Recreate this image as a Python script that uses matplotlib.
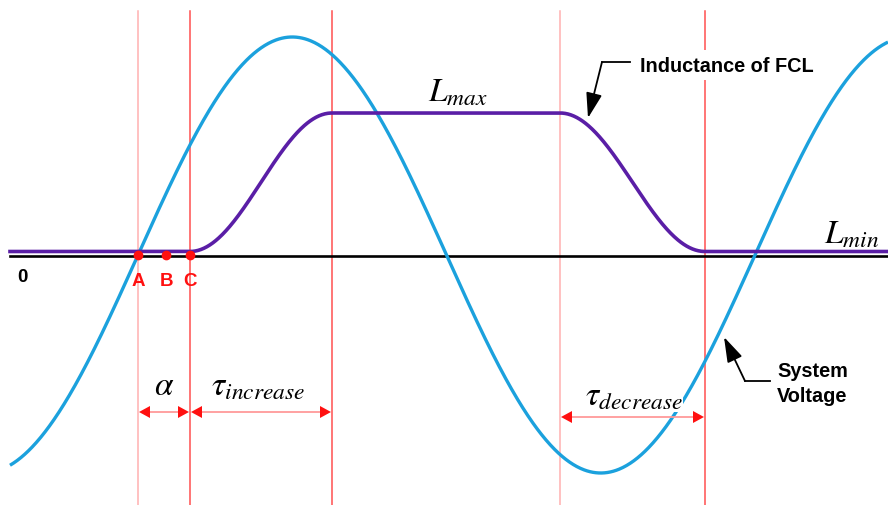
#!/usr/bin/env python3
"""FCL inductance vs system voltage timing sketch."""

import numpy as np
import matplotlib.pyplot as plt
from matplotlib.patches import Polygon

plt.rcParams["mathtext.fontset"] = "stix"

# horizontal positions (same units as the picture, 0..888)
X_START = 10
X_END = 888
V_ZERO = 138          # rising zero crossing of the voltage
V_PERIOD = 617        # one full cycle
V_AMP = 218           # voltage amplitude
L_MIN = 3.5
L_MAX = 142
RISE = (190, 332)     # tau_increase window
FALL = (560, 705)     # tau_decrease window
VLINES = [138, 190, 332, 560, 705]
VLINE_COLORS = ["#ffb0b0", "#ff5050", "#ff5050", "#ffb0b0", "#ff5050"]
POINTS_X = [138, 166, 190]
POINTS_LABEL = ["A", "B", "C"]

BLUE = "#1ba1dd"
PURPLE = "#5a1ea6"
RED = "#ff1010"


def inductance(x):
    t = np.clip((x - RISE[0]) / (RISE[1] - RISE[0]), 0, 1)
    up = L_MIN + (L_MAX - L_MIN) * 0.5 * (1 - np.cos(np.pi * t))
    t2 = np.clip((x - FALL[0]) / (FALL[1] - FALL[0]), 0, 1)
    down = L_MAX - (L_MAX - L_MIN) * 0.5 * (1 - np.cos(np.pi * t2))
    return np.where(x < FALL[0], up, down)


def dim_arrow(ax, x0, x1, y, hl=12, hw=6):
    ax.plot([x0 + hl, x1 - hl], [y, y], color="#ff9a9a", lw=1.3, zorder=5)
    ax.add_patch(Polygon([(x0 + 1, y), (x0 + hl, y + hw), (x0 + hl, y - hw)],
                         closed=True, fc=RED, ec="none", zorder=5))
    ax.add_patch(Polygon([(x1 - 1, y), (x1 - hl, y + hw), (x1 - hl, y - hw)],
                         closed=True, fc=RED, ec="none", zorder=5))


def pointer(ax, corner, hbar_end, tip):
    ax.plot([corner[0], hbar_end], [corner[1], corner[1]], color="black", lw=1.3, zorder=6)
    ax.annotate(
        "",
        xy=tip,
        xytext=corner,
        arrowprops=dict(arrowstyle="-|>,head_length=1.1,head_width=0.35", color="black",
                        lw=1.3, shrinkA=0, shrinkB=0, mutation_scale=14),
        zorder=6,
    )


def main():
    fig = plt.figure(figsize=(8.88, 5.06), dpi=100)
    ax = fig.add_axes([0, 0, 1, 1])
    ax.set_xlim(0, 888)
    ax.set_ylim(-250, 256)
    ax.axis("off")

    x = np.linspace(X_START, X_END, 1200)
    volt = V_AMP * np.sin(2 * np.pi * (x - V_ZERO) / V_PERIOD)

    for xv, c in zip(VLINES, VLINE_COLORS):
        ax.plot([xv, xv], [-250, 244], color=c, lw=1.1, zorder=1)

    ax.plot([X_START, X_END], [-1, -1], color="black", lw=1.9, zorder=2)
    ax.plot(x, volt, color=BLUE, lw=2.4, zorder=3, solid_capstyle="butt")
    ax.plot(x, inductance(x), color=PURPLE, lw=2.6, zorder=4)

    ax.plot(POINTS_X, [0] * len(POINTS_X), "o", color=RED, ms=6, zorder=6)
    for px, lab in zip(POINTS_X, POINTS_LABEL):
        ax.text(px, -26, lab, color=RED, fontsize=13.5, weight="bold",
                family="Liberation Sans", ha="center", va="center")
    ax.text(22, -22, "0", fontsize=13.5, weight="bold", family="Liberation Sans",
            ha="center", va="center")

    # dimension arrows
    dim_arrow(ax, VLINES[0], VLINES[1], -157)
    dim_arrow(ax, RISE[0], RISE[1], -157)
    dim_arrow(ax, FALL[0], FALL[1], -162)

    ax.text(164, -130, r"$\alpha$", fontsize=24, ha="center", va="center")
    ax.text(258, -130, r"$\tau_{increase}$", fontsize=24, ha="center", va="center")
    ax.text(634, -140, r"$\tau_{decrease}$", fontsize=24, ha="center", va="center", zorder=4.5,
            bbox=dict(boxstyle="square,pad=0.0", fc="white", ec="none"))

    ax.text(458, 164, r"$L_{max}$", fontsize=24, ha="center", va="center")
    ax.text(852, 22, r"$L_{min}$", fontsize=24, ha="center", va="center")

    ax.text(640, 190, "Inductance of FCL", fontsize=14.3, weight="bold",
            family="Liberation Sans", ha="left", va="center", zorder=5,
            bbox=dict(boxstyle="square,pad=0.3", fc="white", ec="none"))
    pointer(ax, (602, 193), 630, (588, 137))

    ax.text(777, -128, "System\nVoltage", fontsize=14.3, weight="bold",
            family="Liberation Sans", ha="left", va="center", linespacing=1.35)
    pointer(ax, (745, -126), 770, (724, -82))

    fig.savefig("out.png", dpi=100, facecolor="white")
    plt.close(fig)


if __name__ == "__main__":
    main()
